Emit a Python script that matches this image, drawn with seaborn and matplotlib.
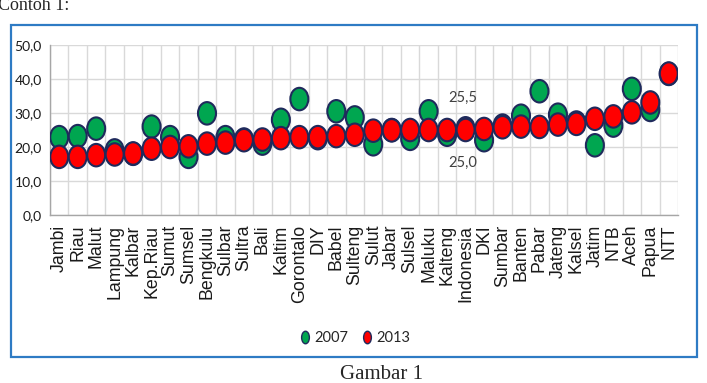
#!/usr/bin/env python3
"""
Dot chart of provincial values, 2007 vs 2013 (Gambar 1).

Output:
  - out.png
"""

import matplotlib.patches as mpatches
import matplotlib.pyplot as plt
import numpy as np
import pandas as pd
import seaborn as sns
from matplotlib.lines import Line2D
from matplotlib.path import Path
from matplotlib.ticker import FixedLocator

PROVINSI = [
    "Jambi", "Riau", "Malut", "Lampung", "Kalbar", "Kep.Riau", "Sumut",
    "Sumsel", "Bengkulu", "Sulbar", "Sultra", "Bali", "Kaltim", "Gorontalo",
    "DIY", "Babel", "Sulteng", "Sulut", "Jabar", "Sulsel", "Maluku",
    "Kalteng", "Indonesia", "DKI", "Sumbar", "Banten", "Pabar", "Jateng",
    "Kalsel", "Jatim", "NTB", "Aceh", "Papua", "NTT",
]
NILAI_2007 = [
    22.9, 23.2, 25.4, 19.0, 18.0, 26.0, 22.9,
    17.1, 29.9, 22.9, 22.2, 21.0, 28.0, 34.1,
    22.6, 30.5, 28.7, 20.8, 25.0, 22.4, 30.5,
    23.6, 25.5, 22.0, 26.3, 29.2, 36.4, 29.5,
    27.2, 20.5, 26.3, 37.1, 30.9, 41.5,
]
NILAI_2013 = [
    17.1, 17.1, 17.6, 17.8, 18.1, 19.5, 20.0,
    20.2, 21.0, 21.3, 22.0, 22.2, 22.6, 22.9,
    22.9, 23.2, 23.6, 24.8, 24.9, 25.0, 25.0,
    25.0, 25.0, 25.3, 25.8, 26.0, 25.9, 26.6,
    26.8, 28.3, 29.0, 30.2, 33.1, 41.6,
]
TAHUN = ["2007", "2013"]
Y_TICKS = [0, 10, 20, 30, 40, 50]

GREEN = "#00A650"
RED = "#FF0000"
EDGE = "#1F2A5C"
GRID = "#D9D9D9"
AXIS = "#A6A6A6"
TEXT = "#1A1A1A"

W, H = 707, 383


def ellipse(ratio):
    # upright ellipse marker, width = ratio * height
    circle = Path.unit_circle()
    return Path(circle.vertices * np.array([ratio, 1.0]), circle.codes)


def koma(v):
    return f"{v:.1f}".replace(".", ",")


def main():
    # 2007 rows first so the 2013 dots sit on top inside each category
    df = pd.DataFrame({
        "Provinsi": PROVINSI + PROVINSI,
        "Nilai": NILAI_2007 + NILAI_2013,
        "Tahun": [TAHUN[0]] * len(PROVINSI) + [TAHUN[1]] * len(PROVINSI),
    })

    sns.set_style("white")
    plt.rcParams["font.family"] = ["Liberation Sans", "DejaVu Sans"]

    fig = plt.figure(figsize=(W / 100, H / 100), dpi=100)
    ax = fig.add_axes([50 / W, 1 - 215 / H, 628 / W, 170 / H])

    sns.stripplot(
        data=df, x="Provinsi", y="Nilai", hue="Tahun",
        order=PROVINSI, hue_order=TAHUN, palette=[GREEN, RED],
        jitter=False, dodge=False, marker=ellipse(0.8), size=16.2,
        linewidth=1.5, edgecolor=EDGE, legend=False, ax=ax, zorder=3,
    )

    ax.set_xlim(-0.5, len(PROVINSI) - 0.5)
    ax.set_ylim(0, 50)
    ax.set_xlabel("")
    ax.set_ylabel("")
    ax.set_yticks(Y_TICKS)
    ax.set_yticklabels([koma(v) for v in Y_TICKS], family=["Lato", "DejaVu Sans"], fontsize=10)

    ax.xaxis.set_minor_locator(FixedLocator(np.arange(-0.5, len(PROVINSI), 1)))
    ax.set_axisbelow(True)
    ax.grid(axis="x", which="minor", color=GRID, lw=1)
    ax.grid(axis="x", which="major", visible=False)
    ax.grid(axis="y", which="major", color=GRID, lw=1)
    ax.tick_params(axis="x", which="major", length=0, pad=7, labelrotation=90,
                   labelsize=12.8, labelcolor=TEXT)
    ax.tick_params(axis="x", which="minor", length=4, width=1, color=AXIS, direction="out")
    ax.tick_params(axis="y", length=3, width=1, color=AXIS, pad=3, labelcolor=TEXT)
    for side in ("top", "right"):
        ax.spines[side].set_visible(False)
    for side in ("left", "bottom"):
        ax.spines[side].set_color(AXIS)
        ax.spines[side].set_linewidth(1)

    # Indonesia value labels
    i = PROVINSI.index("Indonesia")
    ax.annotate(koma(NILAI_2007[i]), (i, NILAI_2007[i]), xytext=(-2, 22), textcoords="offset points",
                ha="center", va="center", fontsize=10.5, family=["Lato", "DejaVu Sans"], color="#404040")
    ax.annotate(koma(NILAI_2013[i]), (i, NILAI_2013[i]), xytext=(-2, -24), textcoords="offset points",
                ha="center", va="center", fontsize=10.5, family=["Lato", "DejaVu Sans"], color="#404040")

    handles = [
        Line2D([], [], ls="none", marker=ellipse(0.62), markersize=9, markerfacecolor=c,
               markeredgecolor=EDGE, markeredgewidth=1)
        for c in (GREEN, RED)
    ]
    fig.legend(handles, TAHUN, loc="center", bbox_to_anchor=(355 / W, 1 - 338 / H), ncol=2,
               frameon=False, handlelength=0.7, handletextpad=0.3, columnspacing=0.9,
               prop={"family": ["Lato", "DejaVu Sans"], "size": 10.5})

    # blue chart frame
    fig.patches.append(mpatches.Rectangle(
        (10.7 / W, 1 - 356.7 / H), 686 / W, 331.7 / H, transform=fig.transFigure,
        fill=False, edgecolor="#2E7BC4", lw=1.6))

    fig.text(-2 / W, 1 - 10 / H, "Contoh 1:", family=["Liberation Serif", "DejaVu Serif"],
             fontsize=13, va="baseline")
    fig.text(382 / W, 1 - 379 / H, "Gambar 1", family=["Liberation Serif", "DejaVu Serif"],
             fontsize=15, ha="center", va="baseline")

    fig.savefig("out.png", dpi=100)
    plt.close(fig)


if __name__ == "__main__":
    main()
